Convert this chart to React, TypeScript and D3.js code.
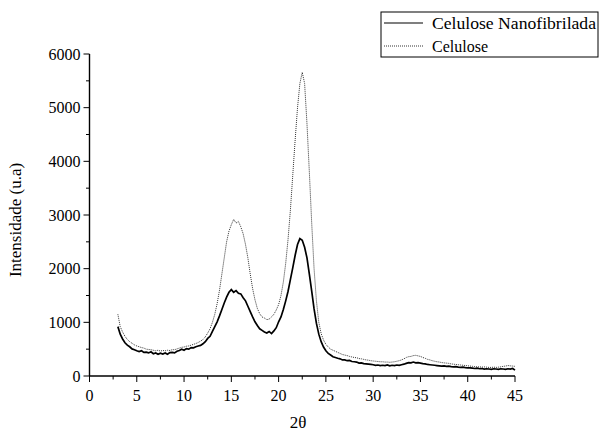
import React from 'react';
import * as d3 from 'd3';

// 2θ sampling grid (3..45, step 0.25)
const twoTheta: number[] = d3.range(0, 169).map((i) => 3 + i * 0.25);

// Celulose Nanofibrilada (solid)
const nanoValues = [
  920, 780, 690, 620, 575, 545, 505, 490, 470, 455, 470, 440, 445, 430, 450, 415,
  430, 405, 425, 410, 430, 405, 435, 440, 430, 460, 475, 500, 480, 510, 500, 530,
  525, 545, 560, 570, 600, 640, 700, 740, 830, 920, 1010, 1120, 1240, 1360, 1470, 1560,
  1610, 1560, 1590, 1540, 1530, 1460, 1400, 1300, 1200, 1100, 1010, 940, 880, 850, 820, 800,
  830, 790, 840, 900, 1010, 1100, 1240, 1400, 1580, 1800, 2020, 2250, 2450, 2560, 2530, 2400,
  2200, 1900, 1580, 1250, 980, 780, 640, 540, 470, 420, 390, 360, 345, 330, 320, 300,
  300, 285, 290, 270, 265, 260, 240, 245, 230, 225, 220, 215, 210, 200, 205, 195,
  200, 195, 205, 190, 200, 195, 205, 200, 210, 220, 235, 250, 245, 260, 245, 250,
  240, 230, 225, 215, 210, 205, 200, 195, 190, 185, 190, 180, 185, 175, 170, 175,
  165, 160, 165, 155, 150, 150, 145, 140, 145, 135, 140, 130, 135, 130, 125, 135,
  130, 125, 135, 130, 125, 135, 130, 140, 110,
];

// Celulose (dotted)
const celValues = [
  1150, 920, 820, 740, 680, 640, 610, 580, 560, 545, 530, 520, 500, 495, 490, 480,
  470, 480, 465, 475, 470, 480, 475, 490, 490, 505, 520, 535, 540, 555, 560, 575,
  590, 605, 625, 650, 680, 730, 800, 880, 1000, 1150, 1350, 1600, 1900, 2200, 2500, 2700,
  2820, 2920, 2850, 2880, 2780, 2650, 2450, 2200, 1900, 1630, 1420, 1260, 1160, 1100, 1080, 1050,
  1060, 1100, 1150, 1230, 1330, 1500, 1750, 2100, 2550, 3100, 3750, 4400, 5000, 5450, 5660, 5450,
  4700, 3800, 2850, 2000, 1400, 1000, 790, 670, 590, 540, 500, 480, 460, 440, 420, 400,
  390, 380, 365, 355, 345, 340, 325, 320, 310, 300, 295, 285, 280, 275, 270, 265,
  265, 260, 260, 255, 260, 265, 275, 285, 300, 320, 345, 360, 365, 380, 385, 375,
  365, 345, 330, 310, 300, 285, 275, 265, 260, 250, 245, 240, 235, 225, 220, 215,
  210, 205, 200, 195, 190, 185, 180, 175, 170, 170, 165, 170, 165, 160, 160, 165,
  160, 165, 170, 180, 185, 195, 190, 185, 180,
];

const seriesNames = ['Celulose Nanofibrilada', 'Celulose'];
const xTicks = [0, 5, 10, 15, 20, 25, 30, 35, 40, 45];
const yTicks = [0, 1000, 2000, 3000, 4000, 5000, 6000];

const W = 599;
const H = 432;
const font = '"Liberation Serif", "DejaVu Serif", "Noto Serif", Times, serif';

export default function App() {
  const x = d3.scaleLinear().domain([0, 45]).range([89.5, 515]);
  const y = d3.scaleLinear().domain([0, 6000]).range([376, 54]);

  const line = d3
    .line<number>()
    .x((_, i) => x(twoTheta[i]))
    .y((d) => y(d));

  const xMinor = d3.range(0, 46, 2.5);
  const yMinor = d3.range(0, 6001, 500);
  const txt = { fontFamily: font };

  return (
    <svg width={W} height={H} style={{ position: 'absolute', left: 0, top: 0, background: '#fff', fontFamily: font }}>
      {/* data */}
      <path d={line(celValues) || ''} fill="none" stroke="#333" strokeWidth={1} strokeDasharray="1,1" />
      <path d={line(nanoValues) || ''} fill="none" stroke="#000" strokeWidth={1.7} />

      {/* axes */}
      <line x1={x(0)} x2={x(45)} y1={y(0)} y2={y(0)} stroke="#000" strokeWidth={1.4} />
      <line x1={x(0)} x2={x(0)} y1={y(0)} y2={y(6000)} stroke="#000" strokeWidth={1.4} />
      {xMinor.map((t) => (
        <line key={'xm' + t} x1={x(t)} x2={x(t)} y1={y(0)} y2={y(0) + (t % 5 === 0 ? 6 : 3.5)} stroke="#000" strokeWidth={1} />
      ))}
      {yMinor.map((t) => (
        <line key={'ym' + t} x1={x(0)} x2={x(0) - (t % 1000 === 0 ? 6 : 3.5)} y1={y(t)} y2={y(t)} stroke="#000" strokeWidth={1} />
      ))}
      {xTicks.map((t) => (
        <text key={'xt' + t} x={x(t)} y={y(0) + 25} textAnchor="middle" fontSize={16} style={txt}>{t}</text>
      ))}
      {yTicks.map((t) => (
        <text key={'yt' + t} x={x(0) - 9} y={y(t) + 5.5} textAnchor="end" fontSize={16} style={txt}>{t}</text>
      ))}

      <text x={298} y={428} textAnchor="middle" fontSize={17} style={txt}>2θ</text>
      <text transform="translate(21,220) rotate(-90)" textAnchor="middle" fontSize={17} style={txt}>Intensidade (u.a)</text>

      {/* legend */}
      <rect x={381} y={12} width={217} height={45} fill="#fff" stroke="#000" strokeWidth={1} />
      <line x1={384} x2={423} y1={23} y2={23} stroke="#000" strokeWidth={1.2} />
      <line x1={384} x2={423} y1={46} y2={46} stroke="#333" strokeWidth={1} strokeDasharray="1,1" />
      <text x={432} y={28.5} fontSize={16} textLength={164} lengthAdjust="spacingAndGlyphs" style={txt}>{seriesNames[0]}</text>
      <text x={432} y={51.5} fontSize={16} style={txt}>{seriesNames[1]}</text>
    </svg>
  );
}
